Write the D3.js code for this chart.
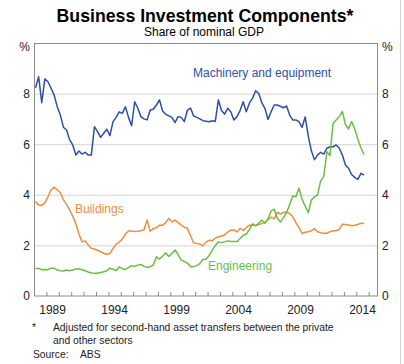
<!DOCTYPE html>
<html><head><meta charset="utf-8">
<script src="https://cdn.jsdelivr.net/npm/d3@7"></script>
<style>body{margin:0;background:#fff}svg{display:block;font-family:"Liberation Sans",Arial,sans-serif}</style>
</head><body><svg id="c" width="404" height="364"></svg>
<script>
// Quarterly data, 1988 Q1 to 2014 Q3 (share of nominal GDP, %)
const firstYear = 1988;
const machinery = [8.23,8.67,7.64,8.58,8.47,8.21,7.94,7.48,7.15,6.67,6.56,6.17,5.97,5.57,5.73,5.61,5.68,5.57,5.57,6.69,6.5,6.27,6.43,6.59,6.34,6.89,7.06,7.28,7.22,7.48,7.06,6.73,7.68,7.42,7.09,7.0,6.96,7.35,7.38,7.55,7.75,7.31,7.18,7.12,7.06,6.85,7.09,7.06,6.89,7.35,7.43,7.12,7.06,7.0,6.93,6.91,6.89,6.93,6.9,7.75,7.33,7.19,7.42,7.28,6.96,7.09,7.33,7.68,7.28,7.62,7.81,8.11,8.01,7.64,7.42,6.98,7.28,7.55,7.55,7.5,7.44,7.51,7.15,6.96,6.96,6.89,6.66,7.08,6.33,5.74,5.39,5.57,5.68,5.61,5.84,5.9,5.9,5.97,5.84,5.57,5.18,5.05,4.8,4.69,4.61,4.85,4.78];
const buildings = [3.73,3.6,3.58,3.68,3.92,4.2,4.3,4.2,4.08,3.8,3.62,3.4,3.15,2.85,2.45,2.14,2.17,2.02,1.89,1.86,1.81,1.75,1.69,1.65,1.68,1.88,2.05,2.13,2.25,2.45,2.57,2.57,2.55,2.56,2.58,2.62,3.0,2.56,2.66,2.7,2.8,2.8,2.9,3.07,2.93,3.0,2.9,2.8,2.72,2.68,2.38,2.1,2.08,2.05,1.98,2.14,2.2,2.18,2.29,2.34,2.37,2.41,2.52,2.6,2.61,2.53,2.67,2.59,2.7,2.8,2.81,2.78,2.82,2.86,2.91,3.02,3.12,3.05,3.3,3.24,3.3,3.32,3.26,3.13,2.9,2.7,2.47,2.52,2.54,2.58,2.66,2.54,2.5,2.48,2.48,2.54,2.58,2.58,2.63,2.84,2.83,2.81,2.78,2.8,2.83,2.88,2.87];
const engineering = [1.09,1.09,1.04,1.05,1.04,1.1,1.1,1.03,1.0,0.99,1.03,1.0,1.03,1.07,1.07,1.04,1.0,0.95,0.91,0.9,0.9,0.93,0.96,1.0,1.1,1.06,1.0,1.15,1.08,1.05,1.12,1.2,1.17,1.22,1.25,1.17,1.13,1.16,1.22,1.55,1.46,1.57,1.71,1.56,1.68,1.82,1.64,1.42,1.37,1.3,1.16,1.16,1.2,1.28,1.44,1.45,1.6,1.8,2.0,2.14,2.11,2.14,2.18,2.15,2.15,2.15,2.27,2.4,2.45,2.62,2.85,2.78,2.87,3.0,2.87,3.05,3.35,3.43,3.08,2.92,3.1,3.3,3.62,3.95,3.92,4.26,3.83,3.55,3.29,3.8,3.92,4.0,4.55,4.72,5.7,5.55,6.83,6.96,7.1,7.3,6.78,6.6,6.9,6.6,6.2,5.85,5.6];
const yearLabels = ["1989","1994","1999","2004","2009","2014"];
const yTickValues = [0,2,4,6,8];
const seriesNames = ["Machinery and equipment","Buildings","Engineering"];
const seriesColors = ["#2f4fa5","#ef8e3c","#6bbd47"];

const svg = d3.select("#c");
const W = 404, H = 364;
const x = d3.scaleLinear().domain([1988, 2015.75]).range([34, 378]);
const y = d3.scaleLinear().domain([0, 10]).range([296, 43]);
const qDate = i => firstYear + 0.125 + i * 0.25;

// page border (right edge)
svg.append("line").attr("x1",400.5).attr("x2",400.5).attr("y1",0).attr("y2",H).attr("stroke","#d0d0d0");

// title
svg.append("text").attr("x",205).attr("y",22).attr("text-anchor","middle")
  .attr("font-size",17.7).attr("font-weight","bold").attr("fill","#000").text("Business Investment Components*");
svg.append("text").attr("x",204).attr("y",36).attr("text-anchor","middle")
  .attr("font-size",12).attr("fill","#000").text("Share of nominal GDP");

// gridlines
svg.append("g").selectAll("line").data(yTickValues.filter(v => v > 0)).join("line")
  .attr("x1", x.range()[0]).attr("x2", x.range()[1])
  .attr("y1", d => y(d) + 0.5).attr("y2", d => y(d) + 0.5)
  .attr("stroke","#d6d6d6").attr("stroke-width",1);

// y axes
const yLeft = d3.axisLeft(y).tickValues(yTickValues.concat([10])).tickSize(0).tickPadding(4)
  .tickFormat(d => d === 10 ? "%" : d);
const yRight = d3.axisRight(y).tickValues(yTickValues.concat([10])).tickSize(0).tickPadding(4)
  .tickFormat(d => d === 10 ? "%" : d);
const gl = svg.append("g").attr("transform","translate(34,0)").call(yLeft);
const gr = svg.append("g").attr("transform","translate(378,0)").call(yRight);
[gl, gr].forEach(g => {
  g.select(".domain").remove();
  g.selectAll("text").attr("font-size",12).attr("fill","#222").attr("font-family","Liberation Sans, Arial, sans-serif");
  g.selectAll(".tick").filter(d => d === 10).select("text").attr("dy","0.65em");
});

// x axis: ticks at year boundaries, labels mid-year
const yearTicks = d3.range(1989, 2016);
const xa = d3.axisBottom(x).tickValues(yearTicks).tickSize(-4).tickFormat("");
const gx = svg.append("g").attr("transform","translate(0,296)").call(xa);
gx.select(".domain").remove();
gx.selectAll("line").attr("stroke","#888");
svg.append("g").selectAll("text").data(yearLabels).join("text")
  .attr("x", d => x(+d + 0.5)).attr("y", 314).attr("text-anchor","middle")
  .attr("font-size",12).attr("fill","#222").text(d => d);

// frame
svg.append("rect").attr("x",34.5).attr("y",43.5).attr("width",343).attr("height",252.5)
  .attr("fill","none").attr("stroke","#8c8c8c").attr("stroke-width",1);

// lines
const line = d3.line().x((d,i) => x(qDate(i))).y(d => y(d));
[machinery, buildings, engineering].forEach((s, k) => {
  svg.append("path").datum(s).attr("d", line).attr("fill","none")
    .attr("stroke", seriesColors[k]).attr("stroke-width",1.5).attr("stroke-linejoin","round");
});

// series labels
const labelPos = [[193,77],[75,213],[208,270]];
seriesNames.forEach((n,k) => {
  svg.append("text").attr("x",labelPos[k][0]).attr("y",labelPos[k][1]).attr("font-size",12)
    .attr("fill",seriesColors[k]).text(n);
});

// footnotes
const fs = 10.3;
svg.append("text").attr("x",32).attr("y",331).attr("font-size",fs).attr("fill","#222").text("*");
svg.append("text").attr("x",53).attr("y",331).attr("font-size",fs).attr("fill","#222")
  .text("Adjusted for second-hand asset transfers between the private");
svg.append("text").attr("x",53).attr("y",344).attr("font-size",fs).attr("fill","#222").text("and other sectors");
svg.append("text").attr("x",33).attr("y",358).attr("font-size",fs).attr("fill","#222").text("Source:");
svg.append("text").attr("x",80).attr("y",358).attr("font-size",fs).attr("fill","#222").text("ABS");
</script></body></html>
